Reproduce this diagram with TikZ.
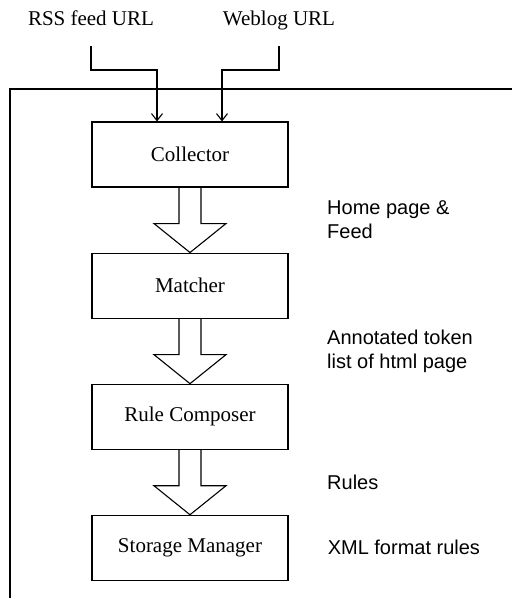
\documentclass[tikz,border=0pt]{standalone}
\usepackage{fontspec}
\setmainfont{Liberation Serif}
\newfontfamily\notefont{Liberation Sans}
\usetikzlibrary{arrows.meta,positioning,calc}

\begin{document}
\begin{tikzpicture}[
  x=1pt, y=-1pt,
  node distance=65pt,
  box/.style={draw, line width=1.1pt, minimum width=196pt, minimum height=65pt, inner sep=0pt, font=\fontsize{21}{25}\selectfont},
  inlabel/.style={inner sep=0pt, anchor=base, font=\fontsize{21}{25}\selectfont},
  note/.style={anchor=west, align=left, inner sep=0pt, font=\notefont\fontsize{20}{24}\selectfont},
  feed/.style={-{Straight Barb[length=7pt,width=11pt]}, line width=1.1pt},
  flow/.style={line width=1.1pt, line join=miter}
]
\useasboundingbox (0,0) rectangle (512,598);
% system border
\draw[line width=1.2pt] (10,598) -- (10,89) -- (512,89);

\node[box] (collector) at (190,154.5) {Collector};
\node[box, below=of collector] (matcher) {Matcher};
\node[box, below=of matcher] (composer) {Rule Composer};
\node[box, below=of composer] (storage) {Storage Manager};

\node[inlabel] (rss) at (91,25) {RSS feed URL};
\node[inlabel] (weblog) at (279,25) {Weblog URL};
\draw[feed] (rss.base) ++(0,21) -- ++(0,24) -| ($(collector.north)+(-33,0)$);
\draw[feed] (weblog.base) ++(0,21) -- ++(0,24) -| ($(collector.north)+(32,0)$);

% block arrows between stages
\foreach \from/\to in {collector/matcher, matcher/composer, composer/storage}
  \draw[flow] ($(\from.south)+(-11,0)$) -- ++(0,36) -- ++(-25,0) -- (\to.north) -- ++(36,-29) -- ++(-25,0) -- ++(0,-36);

\node[note] (pages) at ($(collector.south)!.5!(matcher.north)+(137,0)$) {Home page \&\\Feed};
\node[note] (tokens) at ($(matcher.south)!.5!(composer.north)+(137,0)$) {Annotated token\\list of html page};
\node[note] (rules) at ($(composer.south)!.5!(storage.north)+(137,0)$) {Rules};
\node[note, right=39pt of storage] (xml) {XML format rules};
\end{tikzpicture}
\end{document}
